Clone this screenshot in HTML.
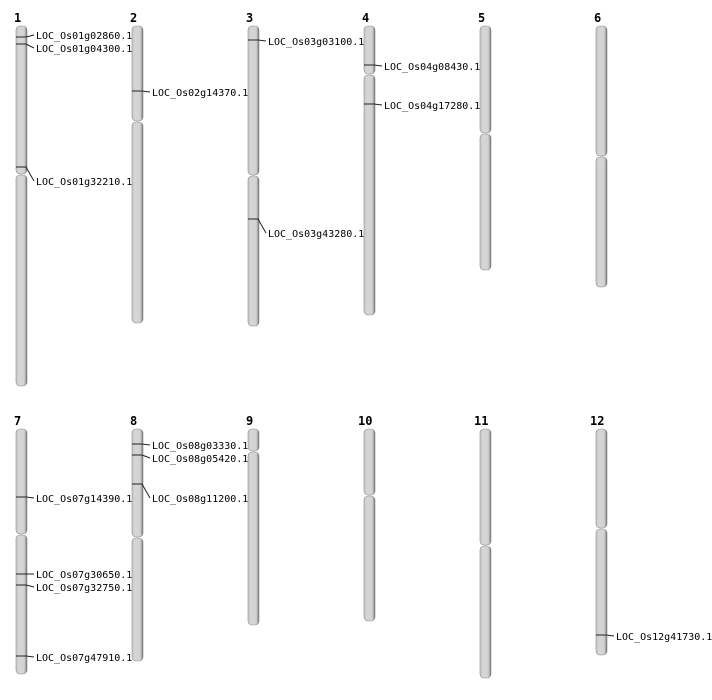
<!DOCTYPE html>
<html><head><meta charset="utf-8"><style>
html,body{margin:0;padding:0;background:#fff;}
svg{display:block;}
text{font-family:"DejaVu Sans Mono","Liberation Mono",monospace;font-size:10px;fill:#000;}
.n{font-family:"DejaVu Sans Mono",monospace;font-weight:bold;font-size:12px;}
.c{fill:url(#g);stroke:#8a8a8a;stroke-width:0.6;}
line,polyline{stroke:#222;stroke-width:1;fill:none;}
</style></head><body>
<svg width="712" height="700" viewBox="0 0 712 700">
<defs><linearGradient id="g" x1="0" x2="1" y1="0" y2="0">
<stop offset="0" stop-color="#c8c8c8"/><stop offset="0.3" stop-color="#d6d6d6"/><stop offset="0.75" stop-color="#d2d2d2"/><stop offset="0.9" stop-color="#9a9a9a"/><stop offset="1" stop-color="#666"/></linearGradient></defs>

<text class="n" x="14" y="22">1</text><text class="n" x="130" y="22">2</text><text class="n" x="246" y="22">3</text><text class="n" x="362" y="22">4</text><text class="n" x="478" y="22">5</text><text class="n" x="594" y="22">6</text>
<text class="n" x="14" y="425">7</text><text class="n" x="130" y="425">8</text><text class="n" x="246" y="425">9</text><text class="n" x="358" y="425">10</text><text class="n" x="474" y="425">11</text><text class="n" x="590" y="425">12</text>

<!-- chr1 -->
<rect class="c" x="16" y="26" width="11" height="148" rx="4"/><rect class="c" x="16" y="175" width="11" height="211" rx="4"/>
<rect class="c" x="132" y="26" width="11" height="95" rx="4"/><rect class="c" x="132" y="122" width="11" height="201" rx="4"/>
<rect class="c" x="248" y="26" width="11" height="149" rx="4"/><rect class="c" x="248" y="176" width="11" height="150" rx="4"/>
<rect class="c" x="364" y="26" width="11" height="48" rx="4"/><rect class="c" x="364" y="75" width="11" height="240" rx="4"/>
<rect class="c" x="480" y="26" width="11" height="107" rx="4"/><rect class="c" x="480" y="134" width="11" height="136" rx="4"/>
<rect class="c" x="596" y="26" width="11" height="130" rx="4"/><rect class="c" x="596" y="157" width="11" height="130" rx="4"/>

<rect class="c" x="16" y="429" width="11" height="105" rx="4"/><rect class="c" x="16" y="535" width="11" height="139" rx="4"/>
<rect class="c" x="132" y="429" width="11" height="108" rx="4"/><rect class="c" x="132" y="538" width="11" height="123" rx="4"/>
<rect class="c" x="248" y="429" width="11" height="22" rx="4"/><rect class="c" x="248" y="452" width="11" height="173" rx="4"/>
<rect class="c" x="364" y="429" width="11" height="66" rx="4"/><rect class="c" x="364" y="496" width="11" height="125" rx="4"/>
<rect class="c" x="480" y="429" width="11" height="116" rx="4"/><rect class="c" x="480" y="546" width="11" height="132" rx="4"/>
<rect class="c" x="596" y="429" width="11" height="99" rx="4"/><rect class="c" x="596" y="529" width="11" height="126" rx="4"/>

<!-- markers -->
<polyline points="16,37 26,37 34,35"/><text x="36" y="39">LOC_Os01g02860.1</text>
<polyline points="16,44 26,44 34,48"/><text x="36" y="52">LOC_Os01g04300.1</text>
<polyline points="16,167 26,167 34,181"/><text x="36" y="185">LOC_Os01g32210.1</text>
<polyline points="132,91 142,91 150,92"/><text x="152" y="96">LOC_Os02g14370.1</text>
<polyline points="248,40 258,40 266,41"/><text x="268" y="45">LOC_Os03g03100.1</text>
<polyline points="248,219 258,219 266,233"/><text x="268" y="237">LOC_Os03g43280.1</text>
<polyline points="364,65 374,65 382,66"/><text x="384" y="70">LOC_Os04g08430.1</text>
<polyline points="364,104 374,104 382,105"/><text x="384" y="109">LOC_Os04g17280.1</text>

<polyline points="16,497 26,497 34,498"/><text x="36" y="502">LOC_Os07g14390.1</text>
<polyline points="16,574 26,574 34,574"/><text x="36" y="578">LOC_Os07g30650.1</text>
<polyline points="16,585 26,585 34,587"/><text x="36" y="591">LOC_Os07g32750.1</text>
<polyline points="16,656 26,656 34,657"/><text x="36" y="661">LOC_Os07g47910.1</text>
<polyline points="132,444 142,444 150,445"/><text x="152" y="449">LOC_Os08g03330.1</text>
<polyline points="132,455 142,455 150,458"/><text x="152" y="462">LOC_Os08g05420.1</text>
<polyline points="132,484 142,484 150,498"/><text x="152" y="502">LOC_Os08g11200.1</text>
<polyline points="596,635 606,635 614,636"/><text x="616" y="640">LOC_Os12g41730.1</text>
</svg>
</body></html>
